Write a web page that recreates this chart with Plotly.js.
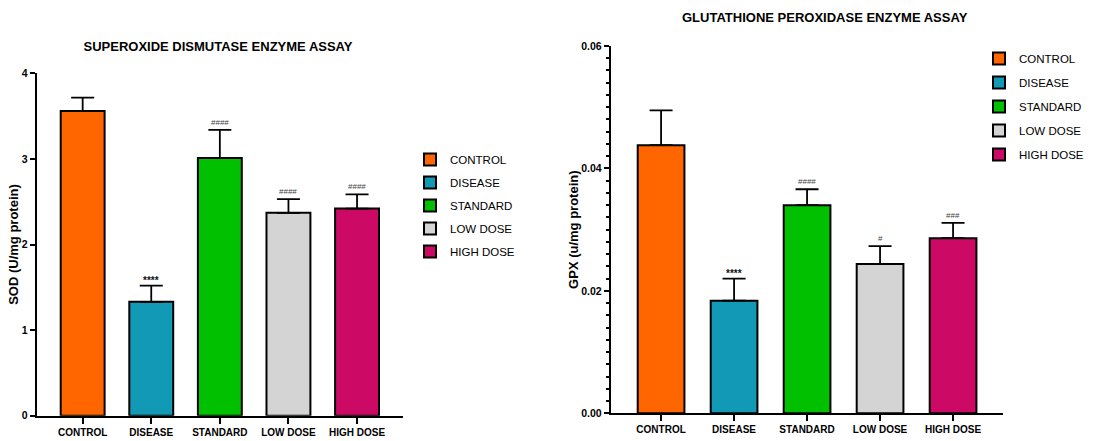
<!DOCTYPE html>
<html>
<head>
<meta charset="utf-8">
<script src="https://cdn.plot.ly/plotly-3.0.1.min.js"></script>
<style>html,body{margin:0;padding:0;background:#fff}#chart{width:1119px;height:441px}</style>
</head>
<body>
<div id="chart"></div>
<script>
const groups = ["CONTROL", "DISEASE", "STANDARD", "LOW DOSE", "HIGH DOSE"];
const colors = ["#FF6600", "#1199B5", "#00C000", "#D4D4D4", "#CC0A66"];
const sodMean = [3.56, 1.33, 3.01, 2.37, 2.42];
const sodErr = [0.155, 0.19, 0.33, 0.16, 0.165];
const sodSig = ["", "****", "####", "####", "####"];
const gpxMean = [0.0438, 0.0184, 0.0340, 0.0244, 0.0286];
const gpxErr = [0.0057, 0.0036, 0.0026, 0.0029, 0.0025];
const gpxSig = ["", "****", "####", "#", "###"];

const FONT = "Arial, Liberation Sans, sans-serif";
const traces = [];
function addChart(means, errs, xa, ya, leg) {
  groups.forEach((g, i) => {
    traces.push({
      type: "bar", x: [g], y: [means[i]], name: g,
      xaxis: xa, yaxis: ya, legend: leg, legendgroup: leg + g,
      width: 0.64,
      marker: {color: colors[i], line: {color: "#000", width: 2}},
      error_y: {type: "data", symmetric: false, array: [errs[i]], arrayminus: [0],
                color: "#000", thickness: 1.8, width: 11.5},
      hoverinfo: "skip"
    });
  });
}
addChart(sodMean, sodErr, "x", "y", "legend");
addChart(gpxMean, gpxErr, "x2", "y2", "legend2");

const annotations = [];
function addSig(means, errs, sigs, xa, ya) {
  sigs.forEach((s, i) => {
    if (!s) return;
    const star = s.indexOf("*") >= 0;
    annotations.push({xref: xa, yref: ya, x: groups[i], y: means[i] + errs[i],
      text: s, showarrow: false, yanchor: "bottom", yshift: star ? -2 : 1,
      font: star ? {family: FONT, size: 10, color: "#111", weight: "bold"}
                 : {family: FONT, size: 8, color: "#444"}});
  });
}
addSig(sodMean, sodErr, sodSig, "x", "y");
addSig(gpxMean, gpxErr, gpxSig, "x2", "y2");
annotations.push({xref: "paper", yref: "paper", x: 825/1119, y: 1 - 17/441,
  xanchor: "center", yanchor: "middle", showarrow: false,
  text: "<b>GLUTATHIONE PEROXIDASE ENZYME ASSAY</b>",
  font: {family: FONT, size: 13, color: "#000"}});

const xCommon = {type: "category", showline: true, linecolor: "#000", linewidth: 2,
  ticks: "outside", ticklen: 6, tickwidth: 2, tickcolor: "#000",
  tickfont: {family: FONT, size: 10, color: "#000", weight: "bold"},
  showgrid: false, zeroline: false, fixedrange: true};
const yCommon = {showline: true, linecolor: "#000", linewidth: 2,
  ticks: "outside", ticklen: 5, tickwidth: 2, tickcolor: "#000",
  tickfont: {family: FONT, size: 10.5, color: "#000", weight: "bold"},
  showgrid: false, zeroline: false, fixedrange: true};

const layout = {
  width: 1119, height: 441,
  margin: {l: 0, r: 0, t: 0, b: 0},
  paper_bgcolor: "#fff", plot_bgcolor: "#fff",
  barmode: "overlay", showlegend: true,
  title: {text: "<b>SUPEROXIDE DISMUTASE ENZYME ASSAY</b>", x: 218/1119, xanchor: "center",
    y: 1 - 46/441, yanchor: "middle", xref: "paper", yref: "paper",
    font: {family: FONT, size: 13, color: "#000"}},
  xaxis: Object.assign({}, xCommon, {domain: [36.7/1119, 403/1119], range: [-0.67, 4.67], anchor: "y"}),
  yaxis: Object.assign({}, yCommon, {domain: [25.3/441, 367.7/441], range: [0, 4], dtick: 1, anchor: "x",
    title: {text: "<b>SOD (U/mg protein)</b>", standoff: 0, font: {family: FONT, size: 13, color: "#000"}}}),
  xaxis2: Object.assign({}, xCommon, {domain: [610.7/1119, 1002.7/1119], range: [-0.69, 4.68], anchor: "y2"}),
  yaxis2: Object.assign({}, yCommon, {domain: [27.7/441, 395/441], range: [0, 0.06], dtick: 0.02,
    tickformat: ".2f", anchor: "x2",
    minor: {dtick: 0.002, ticks: "outside", ticklen: 3, tickwidth: 2, tickcolor: "#000"},
    title: {text: "<b>GPX (u/mg protein)</b>", standoff: 0, font: {family: FONT, size: 13, color: "#000"}}}),
  legend: {x: 410/1119, y: 1 - 145/441, xanchor: "left", yanchor: "top",
    font: {family: FONT, size: 11.5, color: "#000"}, tracegroupgap: 4, bgcolor: "rgba(0,0,0,0)"},
  legend2: {x: 979/1119, y: 1 - 44/441, xanchor: "left", yanchor: "top",
    font: {family: FONT, size: 11.5, color: "#000"}, tracegroupgap: 5, bgcolor: "rgba(0,0,0,0)"},
  annotations: annotations
};
Plotly.newPlot("chart", traces, layout, {displayModeBar: false, staticPlot: true});
</script>
</body>
</html>
